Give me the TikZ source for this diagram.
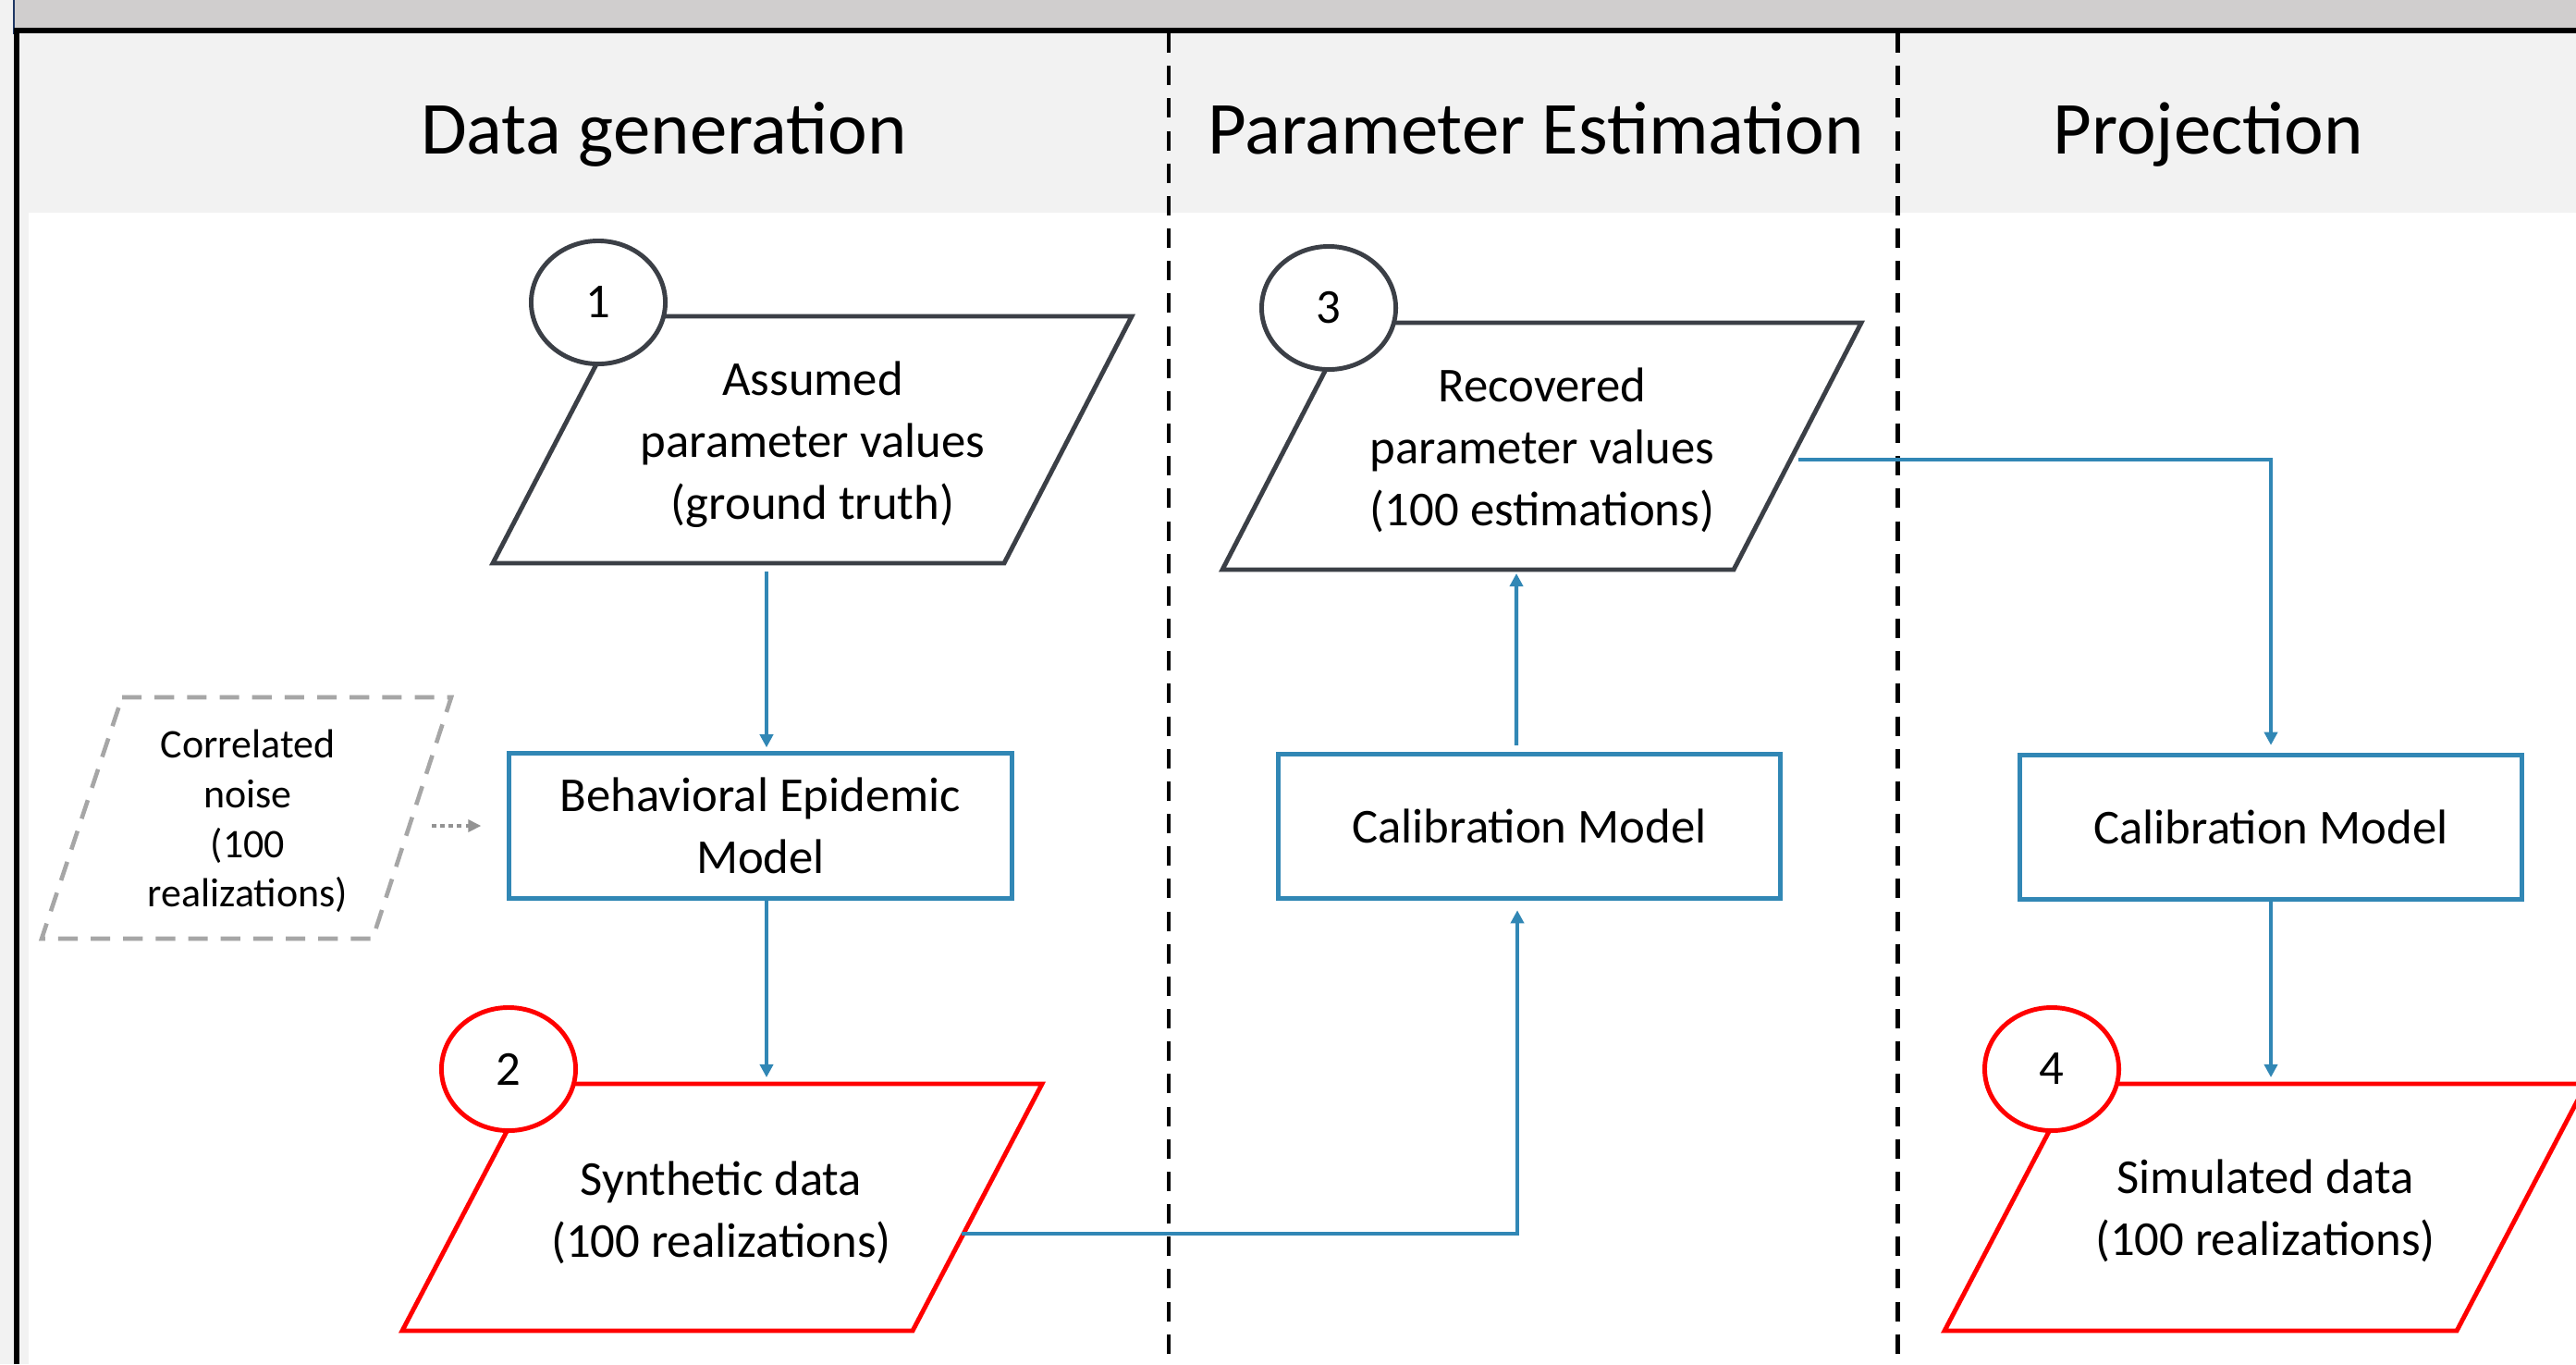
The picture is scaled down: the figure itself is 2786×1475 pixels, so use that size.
\documentclass[tikz,border=0pt]{standalone}
\usepackage{fontspec}
\setmainfont{Carlito}
\usetikzlibrary{shapes.geometric,arrows.meta,calc}
\definecolor{hdrgray}{HTML}{F2F2F2}
\definecolor{topgray}{HTML}{D0CECE}
\definecolor{outl}{RGB}{59,63,70}
\definecolor{bluec}{RGB}{49,135,181}
\definecolor{noisegray}{HTML}{A6A6A6}
\definecolor{dotgray}{HTML}{939393}
\definecolor{navyline}{RGB}{30,55,100}
\begin{document}
\begin{tikzpicture}[x=0.01cm,y=-0.01cm,
  para/.style={line width=1.4pt, fill=white, line join=miter},
  darkpara/.style={para, draw=outl},
  redpara/.style={para, draw=red},
  numc/.style={ellipse, minimum width=1.45cm, minimum height=1.33cm, inner sep=0pt,
    fill=white, line width=1.4pt, font=\fontsize{15}{19}\selectfont},
  body/.style={align=center, inner sep=0pt, font=\fontsize{15}{19}\selectfont},
  model/.style={rectangle, draw=bluec, line width=1.4pt, minimum width=5.43cm,
    minimum height=1.565cm, align=center, inner sep=0pt, fill=white,
    font=\fontsize{15}{19}\selectfont},
  conn/.style={draw=bluec, line width=1.2pt, -{Triangle[length=4pt,width=4pt]}},
  hdr/.style={anchor=base, inner sep=0pt, font=\fontsize{23}{28}\selectfont},
  divider/.style={line width=1.4pt, dash pattern=on 6pt off 4pt},
  noisepara/.style={draw=noisegray, line width=1.3pt, dash pattern=on 6pt off 4pt, fill=white},
  noisetxt/.style={align=center, inner sep=0pt, font=\fontsize{12.5}{15.3}\selectfont},
  dotconn/.style={draw=dotgray, line width=1.4pt, dash pattern=on 1.4pt off 1.2pt,
    -{Triangle[length=4pt,width=3.7pt]}}]
\useasboundingbox (0,0) rectangle (2786,1475);
\clip (0,0) rectangle (2786,1475);
% background
\fill[hdrgray] (0,0) rectangle (2786,1475);
\fill[white] (31,230) rectangle (2786,1475);
\fill[topgray] (16,0) rectangle (2786,30);
\draw[navyline, line width=0.6pt] (15,0) -- (15,37);
\draw[black, line width=1.7pt, line join=miter] (18,1475) -- (18,33) -- (2786,33);
% headers
\node[hdr] (h1) at (718,166) {Data generation};
\node[hdr] (h2) at (1661,166) {Parameter Estimation};
\node[hdr] (h3) at (2388,166) {Projection};
% dividers
\draw[divider] (1264,36) -- (1264,1475);
\draw[divider] (2052,36) -- (2052,1475);
% column 1
\draw[darkpara] (672,342) -- (1224,342) -- (1086,609) -- (533,609) -- cycle;
\node[body] (t1) at (879,481) {Assumed\\parameter values\\(ground truth)};
\node[numc, draw=outl] (n1) at (647,327) {1};
\draw[noisepara] (132,754) -- (488,754) -- (403,1015) -- (45,1015) -- cycle;
\node[noisetxt] (noise) at (268,888) {Correlated\\noise\\(100\\realizations)};
\node[model] (bem) at (822.5,893) {Behavioral Epidemic\\Model};
\draw[redpara] (575,1172) -- (1127,1172) -- (987,1439) -- (435,1439) -- cycle;
\node[body] (t2) at (780,1311) {Synthetic data\\(100 realizations)};
\node[numc, draw=red] (n2) at (550,1156) {2};
% column 2
\draw[darkpara] (1460,349) -- (2013,349) -- (1875,616) -- (1322,616) -- cycle;
\node[body] (t3) at (1668,487) {Recovered\\parameter values\\(100 estimations)};
\node[numc, draw=outl] (n3) at (1437,333) {3};
\node[model] (cal1) at (1654,893.5) {Calibration Model};
% column 3
\node[model] (cal2) at (2456,894.5) {Calibration Model};
\draw[redpara] (2243,1172) -- (2797,1172) -- (2657,1439) -- (2103,1439) -- cycle;
\node[body] (t4) at (2450,1309.5) {Simulated data\\(100 realizations)};
\node[numc, draw=red] (n4) at (2219,1156) {4};
% anchor coordinates on the parallelogram sides
\coordinate (p1b) at (829,609);
\coordinate (p2t) at (829,1172);
\coordinate (p2r) at (1040,1334);
\coordinate (p3b) at (1640,616);
\coordinate (p3r) at (1945,497);
\coordinate (p4t) at (2456,1172);
\coordinate (nzr) at (444,893);
% connectors
\draw[conn, shorten <=0.09cm, shorten >=0.04cm] (p1b) -- (bem.north -| p1b);
\draw[conn, shorten >=0.07cm] (bem.south -| p2t) -- (p2t);
\draw[dotconn, shorten <=0.23cm, shorten >=0.28cm] (nzr) -- (bem.west |- nzr);
\draw[conn, shorten >=0.1cm] (p2r) -| ([xshift=-0.13cm]cal1.south);
\draw[conn, shorten <=0.07cm, shorten >=0.04cm] ([xshift=-0.14cm]cal1.north) -- (p3b);
\draw[conn, shorten >=0.08cm] (p3r) -| (cal2.north);
\draw[conn, shorten >=0.07cm] (cal2.south) -- (p4t);
\end{tikzpicture}
\end{document}
